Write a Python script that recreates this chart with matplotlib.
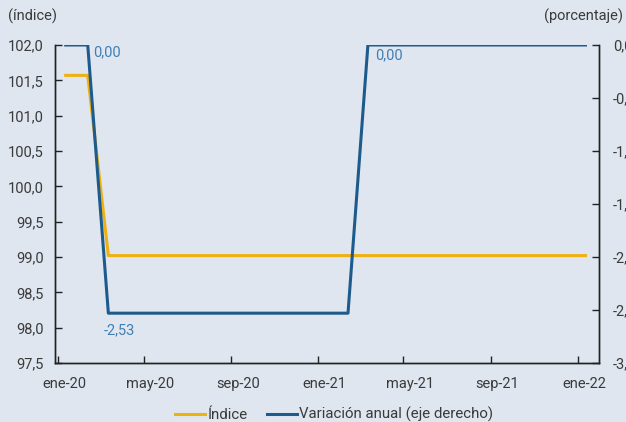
import matplotlib.pyplot as plt
import pandas as pd

# monthly series, ene-20 .. ene-22
months = pd.date_range('2020-01-01', periods=25, freq='MS')
indice = [101.57, 101.57] + [99.02] * 23
variacion = [0.00, 0.00] + [-2.53] * 12 + [0.00] * 11

tick_dates = pd.date_range('2020-01-01', periods=7, freq='4MS')
tick_labels = ['ene-20', 'may-20', 'sep-20', 'ene-21', 'may-21', 'sep-21', 'ene-22']

bg = '#dfe6f0'
yellow = '#eeb111'
blue = '#1d5b8c'
lblue = '#3f7fb3'
txt = '#3a3a3a'

plt.rcParams['font.family'] = ['Roboto', 'DejaVu Sans']
plt.rcParams['font.size'] = 10.5

fig = plt.figure(figsize=(6.26, 4.22), dpi=100, facecolor=bg)
ax = fig.add_axes([0.0879, 0.1398, 0.8690, 0.7536], facecolor=bg)
ax2 = ax.twinx()

# data points sit a bit after the month tick
x = months + pd.Timedelta(days=11)

l1, = ax.plot(x, indice, color=yellow, lw=2.2, label='Índice')
l2, = ax2.plot(x, variacion, color=blue, lw=2.2, label='Variación anual (eje derecho)')

ax.set_ylim(97.5, 102.0)
ax.set_yticks([97.5, 98.0, 98.5, 99.0, 99.5, 100.0, 100.5, 101.0, 101.5, 102.0])
ax.set_yticklabels([f'{v:.1f}'.replace('.', ',') for v in ax.get_yticks()])
ax2.set_ylim(-3.0, 0.0)
ax2.set_yticks([-3.0, -2.5, -2.0, -1.5, -1.0, -0.5, 0.0])
ax2.set_yticklabels([f'{v:.1f}'.replace('.', ',') for v in ax2.get_yticks()])

ax.set_xlim(pd.Timestamp('2019-12-28'), pd.Timestamp('2022-01-31'))
# tick marks on the month, labels shifted slightly right (minor ticks carry the text)
ax.set_xticks(tick_dates)
ax.set_xticklabels([])
ax.set_xticks(tick_dates + pd.Timedelta(days=9), minor=True)
ax.set_xticklabels(tick_labels, minor=True)
ax.tick_params(axis='x', which='minor', length=0, pad=10, labelcolor=txt)

for a in (ax, ax2):
    a.spines['top'].set_visible(False)
    for s in ('left', 'right', 'bottom'):
        a.spines[s].set_color('#222222')
        a.spines[s].set_linewidth(1.0)
    a.tick_params(which='major', direction='in', length=5, width=1, colors='#222222',
                  labelcolor=txt)
ax.tick_params(axis='y', pad=8)
ax2.tick_params(axis='y', pad=10)

# point labels
ann = dict(textcoords='offset points', color=lblue, fontsize=10.5, va='center', ha='left')
ax2.annotate('0,00', (x[1], variacion[1]), xytext=(3.6, -5), **ann)
ax2.annotate('-2,53', (x[2], variacion[2]), xytext=(-3, -12), **ann)
ax2.annotate('0,00', (x[14], variacion[14]), xytext=(5, -7.5), **ann)

fig.text(0.013, 0.962, '(índice)', color=txt, fontsize=10.5, va='center')
fig.text(0.995, 0.962, '(porcentaje)', color=txt, fontsize=10.5, va='center', ha='right')

fig.legend(handles=[l1, l2], loc='lower center', bbox_to_anchor=(0.534, -0.033), ncol=2,
           frameon=False, handlelength=2.0, handletextpad=0.15, columnspacing=1.3,
           labelcolor=txt, fontsize=10.8)

fig.savefig('out.png', dpi=100, facecolor=bg)
